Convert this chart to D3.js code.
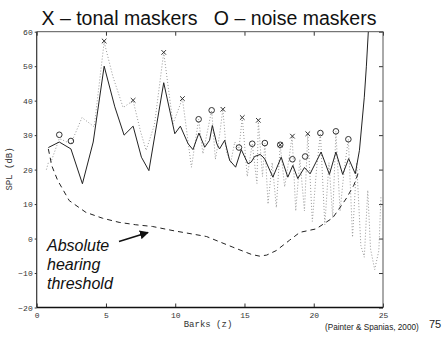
<!DOCTYPE html>
<html>
<head>
<meta charset="utf-8">
<script src="https://cdn.jsdelivr.net/npm/d3@7"></script>
<style>
  body { margin: 0; background: #fff; }
  .tick text { font-family: "Liberation Mono", "DejaVu Sans Mono", monospace; font-size: 8px; fill: #333; }
  .tick line { stroke: #333; }
</style>
</head>
<body>
<div class="chart"></div>
<script>
// masking threshold (solid)
var maskBark = [0.84,1.63,2.47,3.3,4.08,4.87,5.64,6.31,6.96,7.56,8.1,9.17,9.97,10.37,10.93,11.28,11.71,12.13,12.48,12.68,13.0,13.2,13.57,13.93,14.36,14.77,15.25,15.49,15.73,16.14,16.45,17.05,17.65,18.13,18.49,18.85,19.33,19.74,20.53,21.13,21.6,22.09,22.52,23.0,23.3,23.65,23.8,23.94];
var maskSpl  = [26.4,28,26,15.9,28,50,38.2,30,32.6,23.6,19.7,45.2,30.4,32.6,27.5,25.8,30.6,26.5,28.5,32.8,27.5,26,28.5,22.7,20.7,25.8,21.7,22.2,23.8,24.4,23.2,17.8,23.6,17.8,21.2,17.4,20.6,18.8,25.1,18.6,25.1,18.6,23.2,18.8,25.6,41,50,60];

// original spectrum (dotted)
var specBark = [0.7,0.84,1.03,1.63,2.47,3.27,4.15,4.87,5.5,6.24,6.96,7.5,7.9,8.5,9.17,9.84,10.52,11.17,11.69,12.0,12.63,12.9,13.2,13.44,13.7,14.0,14.3,14.6,14.84,15.2,15.56,15.9,16.0,16.3,16.47,16.7,17.0,17.3,17.58,17.9,18.1,18.44,18.7,19.0,19.33,19.57,19.9,20.2,20.48,20.8,21.1,21.37,21.6,21.9,22.2,22.5,22.8,23.1,23.4,23.65,23.9,24.1,24.4,24.7,24.85];
var specSpl  = [20,22,22.2,29,27.5,35.1,32.4,57,47,38,40,31,25.6,33,54,33.3,40.6,20.7,34.6,24.6,37.2,23,30,37.5,25,22,28,26,35.1,18,27.5,16,34.3,18,27.7,10,22,9,27.2,15,20,29.7,8,23,8,30.4,5,20,30.6,4,22,6,31.1,8,20,28.8,0.4,22,-2,-5.4,14,-3,-9,-3.5,12];

// absolute hearing threshold (dashed)
var threshBark = [0.84,1.1,1.51,2.35,3.55,4.75,5.95,7.15,8.36,9.84,12.25,14.16,15.5,16.09,16.6,17.29,18.25,19.0,20.17,21.37,22.33,22.9,23.3];
var threshSpl  = [26,21,16.9,11,7.6,5.9,4.7,4,3.5,2.3,0.6,-2.5,-4.6,-5.1,-4.8,-3.5,-0.5,1.8,2.8,6,11.5,15.5,20];

// tonal maskers (x) and noise maskers (o)
var tonalBark = [4.87,6.96,9.17,10.52,13.44,14.84,16.0,17.58,18.46,19.57];
var tonalSpl  = [57.3,40.1,54,40.6,37.5,35.1,34.3,27.2,29.7,30.4];
var noiseBark = [1.63,2.47,11.69,12.63,14.6,15.56,16.47,17.58,18.46,19.38,20.48,21.6,22.5];
var noiseSpl  = [30.1,28.3,34.6,37.2,26.4,27.5,27.7,27.2,23,23.8,30.6,31.1,28.8];

var xTicks = [0,5,10,15,20,25];
var yTicks = [-20,-10,0,10,20,30,40,50,60];

var width = 446,
    height = 344;

var x = d3.scaleLinear()
    .domain([0,25])
    .range([36.7,383]);

var y = d3.scaleLinear()
    .domain([-20,60])
    .range([307.5,31.7]);

var svg = d3.select(".chart").append("svg")
    .attr("width", width)
    .attr("height", height);

svg.append("defs").append("clipPath")
    .attr("id", "plot")
  .append("rect")
    .attr("x", x(0))
    .attr("y", y(60))
    .attr("width", x(25) - x(0))
    .attr("height", y(-20) - y(60));

function pts(xs, ys) {
  return xs.map(function(d,i){ return [d, ys[i]]; });
}

var line = d3.line()
    .x(function(d){ return x(d[0]); })
    .y(function(d){ return y(d[1]); });

// axes with inward ticks
svg.append("g")
    .attr("transform", "translate(0," + y(-20) + ")")
    .call(d3.axisBottom(x).tickValues(xTicks).tickSize(-4).tickPadding(5))
    .call(function(g){ g.select(".domain").remove(); });

svg.append("g")
    .attr("transform", "translate(0," + y(60) + ")")
    .call(d3.axisTop(x).tickValues(xTicks).tickSize(-4).tickFormat(""))
    .call(function(g){ g.select(".domain").remove(); });

svg.append("g")
    .attr("transform", "translate(" + x(0) + ",0)")
    .call(d3.axisLeft(y).tickValues(yTicks).tickSize(2).tickPadding(2))
    .call(function(g){ g.select(".domain").remove(); });

svg.append("g")
    .attr("transform", "translate(" + x(25) + ",0)")
    .call(d3.axisRight(y).tickValues(yTicks).tickSize(-4).tickFormat(""))
    .call(function(g){ g.select(".domain").remove(); });

// frame
svg.append("line")
    .attr("x1", x(0)).attr("x2", x(25))
    .attr("y1", y(60)).attr("y2", y(60))
    .attr("stroke", "#555");
svg.append("line")
    .attr("x1", x(25)).attr("x2", x(25))
    .attr("y1", y(60)).attr("y2", y(-20))
    .attr("stroke", "#555");
svg.append("line")
    .attr("x1", x(0)).attr("x2", x(0))
    .attr("y1", y(60)).attr("y2", y(-20))
    .attr("stroke", "#333")
    .attr("stroke-width", 1.2);
svg.append("line")
    .attr("x1", x(0)).attr("x2", x(25))
    .attr("y1", y(-20)).attr("y2", y(-20))
    .attr("stroke", "#111")
    .attr("stroke-width", 1.6);

var plot = svg.append("g")
    .attr("clip-path", "url(#plot)");

plot.append("path")
    .datum(pts(specBark, specSpl))
    .attr("d", line)
    .attr("fill", "none")
    .attr("stroke", "#999")
    .attr("stroke-width", 1)
    .attr("stroke-dasharray", "1,2");

plot.append("path")
    .datum(pts(threshBark, threshSpl))
    .attr("d", line)
    .attr("fill", "none")
    .attr("stroke", "#222")
    .attr("stroke-width", 1)
    .attr("stroke-dasharray", "5,4");

plot.append("path")
    .datum(pts(maskBark, maskSpl))
    .attr("d", line)
    .attr("fill", "none")
    .attr("stroke", "#222")
    .attr("stroke-width", 1);

plot.selectAll(".noise")
    .data(pts(noiseBark, noiseSpl))
    .enter()
    .append("circle")
    .attr("class", "noise")
    .attr("cx", function(d){ return x(d[0]); })
    .attr("cy", function(d){ return y(d[1]); })
    .attr("r", 2.8)
    .attr("fill", "none")
    .attr("stroke", "#333")
    .attr("stroke-width", 1);

plot.selectAll(".tonal")
    .data(pts(tonalBark, tonalSpl))
    .enter()
    .append("path")
    .attr("class", "tonal")
    .attr("transform", function(d){ return "translate(" + x(d[0]) + "," + y(d[1]) + ")"; })
    .attr("d", "M-2.3,-2.3L2.3,2.3M-2.3,2.3L2.3,-2.3")
    .attr("stroke", "#333")
    .attr("stroke-width", 1);

// labels
svg.append("text")
    .attr("x", 41.5)
    .attr("y", 24.5)
    .attr("font-family", "Liberation Sans, Arial, sans-serif")
    .attr("font-size", "19.5px")
    .attr("fill", "#111")
    .attr("xml:space", "preserve")
    .style("white-space", "pre")
    .text("X \u2013 tonal maskers   O \u2013 noise maskers");

svg.append("text")
    .attr("x", 208)
    .attr("y", 327)
    .attr("text-anchor", "middle")
    .attr("font-family", "Liberation Mono, DejaVu Sans Mono, monospace")
    .attr("font-size", "9px")
    .attr("fill", "#333")
    .text("Barks (z)");

svg.append("text")
    .attr("transform", "translate(12,169) rotate(-90)")
    .attr("text-anchor", "middle")
    .attr("font-family", "Liberation Mono, DejaVu Sans Mono, monospace")
    .attr("font-size", "9px")
    .attr("fill", "#333")
    .text("SPL (dB)");

var note = svg.append("text")
    .attr("font-family", "Liberation Sans, Arial, sans-serif")
    .attr("font-size", "16px")
    .attr("font-style", "italic")
    .attr("fill", "#111");
["Absolute", "hearing", "threshold"].forEach(function(t, i){
  note.append("tspan")
      .attr("x", 47)
      .attr("y", 250.7 + i*19.3)
      .text(t);
});

svg.append("defs").append("marker")
    .attr("id", "head")
    .attr("viewBox", "0 0 10 10")
    .attr("refX", 9).attr("refY", 5)
    .attr("markerWidth", 9).attr("markerHeight", 9)
    .attr("markerUnits", "userSpaceOnUse")
    .attr("orient", "auto")
  .append("path")
    .attr("d", "M0,0L10,5L0,10z")
    .attr("fill", "#111");

svg.append("line")
    .attr("x1", 119).attr("y1", 241.5)
    .attr("x2", 148).attr("y2", 232.5)
    .attr("stroke", "#111")
    .attr("stroke-width", 1.5)
    .attr("marker-end", "url(#head)");

svg.append("text")
    .attr("x", 325)
    .attr("y", 329.5)
    .attr("font-family", "Liberation Sans, Arial, sans-serif")
    .attr("font-size", "8.2px")
    .attr("fill", "#222")
    .text("(Painter & Spanias, 2000)");

svg.append("text")
    .attr("x", 429)
    .attr("y", 327.5)
    .attr("font-family", "Liberation Sans, Arial, sans-serif")
    .attr("font-size", "11px")
    .attr("fill", "#222")
    .text("75");
</script>
</body>
</html>
